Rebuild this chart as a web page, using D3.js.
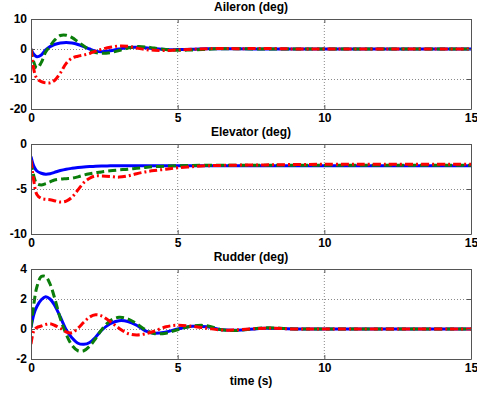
<!DOCTYPE html>
<html>
<head>
<meta charset="utf-8">
<script src="https://cdn.jsdelivr.net/npm/d3@7/dist/d3.min.js"></script>
<style>
  body { margin: 0; background: #fff; }
  svg { display: block; }
  text { font-family: Arial, "Liberation Sans", sans-serif; font-weight: bold; font-size: 12px; fill: #000; }
</style>
</head>
<body>
<svg id="chart" width="477" height="394"></svg>
<script>
// Sample times (s)
const time = [0, 0.1, 0.2, 0.35, 0.5, 0.65, 0.8, 1.0, 1.2, 1.4, 1.6, 1.8, 2.0, 2.2, 2.4, 2.7,
              3.0, 3.3, 3.6, 3.9, 4.2, 4.6, 5.0, 5.5, 6.0, 6.5, 7.0, 8, 9, 10, 12, 15];

// Aileron deflection (deg)
const aileronBlue  = [0, -1.8, -2.6, -2.0, -0.3, 0.8, 1.5, 2.0, 2.2, 2.0, 1.5, 0.8, 0.0, -0.7, -0.9, -0.6,
                      0.0, 0.5, 0.6, 0.4, 0.1, -0.2, -0.2, -0.1, 0.05, 0.1, 0.05, 0, 0, 0, 0, 0];
const aileronGreen = [0, -4.5, -6.4, -4.5, -1.0, 1.0, 2.9, 4.5, 4.6, 3.8, 2.4, 1.0, -0.3, -1.2, -1.4, -1.2,
                      -0.5, 0.3, 0.8, 0.7, 0.3, -0.2, -0.4, -0.3, -0.1, 0.1, 0.1, 0, 0, 0, 0, 0];
const aileronRed   = [0, -7.0, -9.8, -10.9, -11.3, -11.3, -10.5, -8.0, -4.8, -3.0, -2.4, -2.0, -1.5, -0.7, -0.1, 0.6,
                      1.0, 0.9, 0.3, -0.2, -0.4, -0.5, -0.3, -0.1, 0.1, 0.2, 0.1, 0.2, 0, 0, 0, 0];

// Elevator deflection (deg)
const elevatorBlue  = [-1.4, -2.5, -3.0, -3.25, -3.35, -3.3, -3.15, -2.95, -2.8, -2.7, -2.62, -2.55, -2.5, -2.46, -2.44, -2.43,
                       -2.43, -2.43, -2.43, -2.43, -2.43, -2.43, -2.43, -2.43, -2.43, -2.43, -2.43, -2.43, -2.43, -2.43, -2.43, -2.43];
const elevatorGreen = [-2.0, -3.6, -4.4, -4.55, -4.4, -4.2, -4.0, -3.9, -3.85, -3.8, -3.65, -3.45, -3.3, -3.18, -3.1, -2.97,
                       -2.88, -2.8, -2.7, -2.6, -2.52, -2.45, -2.42, -2.38, -2.36, -2.35, -2.35, -2.35, -2.35, -2.35, -2.35, -2.35];
const elevatorRed   = [-1.8, -4.2, -5.6, -6.05, -6.15, -6.2, -6.3, -6.45, -6.35, -5.9, -5.1, -4.3, -3.8, -3.55, -3.55, -3.6,
                       -3.68, -3.55, -3.3, -3.1, -2.95, -2.8, -2.65, -2.52, -2.42, -2.38, -2.35, -2.32, -2.28, -2.26, -2.25, -2.25];

// Rudder deflection (deg)
const rudderBlue  = [0.1, 1.0, 1.5, 1.95, 2.15, 2.0, 1.6, 0.8, -0.05, -0.6, -0.95, -1.02, -0.9, -0.55, -0.1, 0.35,
                     0.55, 0.5, 0.25, -0.12, -0.28, -0.2, 0.0, 0.18, 0.15, -0.05, -0.08, 0.05, 0, 0, 0, 0];
const rudderGreen = [0.1, 1.7, 2.8, 3.5, 3.5, 3.0, 2.1, 0.7, -0.35, -1.1, -1.45, -1.45, -1.15, -0.65, -0.07, 0.55,
                     0.78, 0.68, 0.35, -0.05, -0.3, -0.28, -0.05, 0.2, 0.22, -0.05, -0.1, 0.08, 0, 0, 0, 0];
const rudderRed   = [-1.0, -0.1, 0.1, 0.2, 0.3, 0.35, 0.25, 0.05, -0.2, -0.25, 0.05, 0.45, 0.8, 0.95, 0.88, 0.5,
                     0.05, -0.3, -0.4, -0.32, -0.15, 0.15, 0.25, 0.18, 0.05, -0.07, -0.05, 0.05, 0, 0, 0, 0];

// Axis ticks
const xTicks = [0, 5, 10, 15];
const aileronTicks  = [-20, -10, 0, 10];
const elevatorTicks = [-10, -5, 0];
const rudderTicks   = [-2, 0, 2, 4];

const panels = [
  { title: "Aileron (deg)",  domain: [-20, 10], ticks: aileronTicks,  series: [aileronBlue, aileronGreen, aileronRed],  top: 19 },
  { title: "Elevator (deg)", domain: [-10, 0],  ticks: elevatorTicks, series: [elevatorBlue, elevatorGreen, elevatorRed], top: 144 },
  { title: "Rudder (deg)",   domain: [-2, 4],   ticks: rudderTicks,   series: [rudderBlue, rudderGreen, rudderRed],     top: 269 }
];

const styles = [
  { color: "#0000ff", dash: null },
  { color: "#0a7d0a", dash: "8,4" },
  { color: "#ff0000", dash: "8,3,2,3" }
];

const left = 31, right = 471, panelH = 90;
const svg = d3.select("#chart");
const x = d3.scaleLinear().domain([0, 15]).range([left, right]);
const fmt = d => String(d);

panels.forEach((p, pi) => {
  const y = d3.scaleLinear().domain(p.domain).range([p.top + panelH, p.top]);
  const g = svg.append("g");

  // dotted grid
  g.selectAll(".gx").data(xTicks.slice(1, -1)).join("line")
    .attr("x1", d => x(d)).attr("x2", d => x(d))
    .attr("y1", p.top).attr("y2", p.top + panelH)
    .attr("stroke", "#8a8a8a").attr("stroke-width", 1).attr("stroke-dasharray", "1,2");
  g.selectAll(".gy").data(p.ticks.slice(1, -1)).join("line")
    .attr("x1", left).attr("x2", right)
    .attr("y1", d => y(d) + 0.5).attr("y2", d => y(d) + 0.5)
    .attr("stroke", "#8a8a8a").attr("stroke-width", 1).attr("stroke-dasharray", "1,2");

  // curves
  const clipId = "clip" + pi;
  svg.append("clipPath").attr("id", clipId).append("rect")
    .attr("x", left).attr("y", p.top).attr("width", right - left).attr("height", panelH);
  const line = d3.line()
    .x((d, i) => x(time[i]))
    .y(d => y(d))
    .curve(d3.curveCatmullRom.alpha(0.5));
  p.series.forEach((vals, si) => {
    g.append("path")
      .attr("clip-path", `url(#${clipId})`)
      .attr("d", line(vals))
      .attr("fill", "none")
      .attr("stroke", styles[si].color)
      .attr("stroke-width", 3)
      .attr("stroke-dasharray", styles[si].dash);
  });

  // axes with inward ticks on all four sides
  const axL = d3.axisLeft(y).tickValues(p.ticks).tickFormat(fmt).tickSizeInner(-4).tickSizeOuter(0).tickPadding(4);
  const axR = d3.axisRight(y).tickValues(p.ticks).tickSizeInner(-4).tickSizeOuter(0).tickFormat("");
  const axB = d3.axisBottom(x).tickValues(xTicks).tickFormat(fmt).tickSizeInner(-4).tickSizeOuter(0).tickPadding(4);
  const axT = d3.axisTop(x).tickValues(xTicks).tickSizeInner(-4).tickSizeOuter(0).tickFormat("");

  [[axL, `translate(${left},0)`], [axR, `translate(${right},0)`],
   [axB, `translate(0,${p.top + panelH})`], [axT, `translate(0,${p.top})`]].forEach(([ax, tr]) => {
    const a = g.append("g").attr("transform", tr).call(ax);
    a.select(".domain").attr("stroke", "#555");
    a.selectAll(".tick line").attr("stroke", "#555");
    a.selectAll("text").attr("font-size", 12).attr("font-weight", "bold")
      .attr("font-family", "Arial, 'Liberation Sans', sans-serif").attr("fill", "#000");
  });

  g.append("text")
    .attr("x", (left + right) / 2).attr("y", p.top - 8)
    .attr("text-anchor", "middle")
    .text(p.title);
});

svg.append("text")
  .attr("x", (left + right) / 2).attr("y", 385)
  .attr("text-anchor", "middle")
  .text("time (s)");
</script>
</body>
</html>
